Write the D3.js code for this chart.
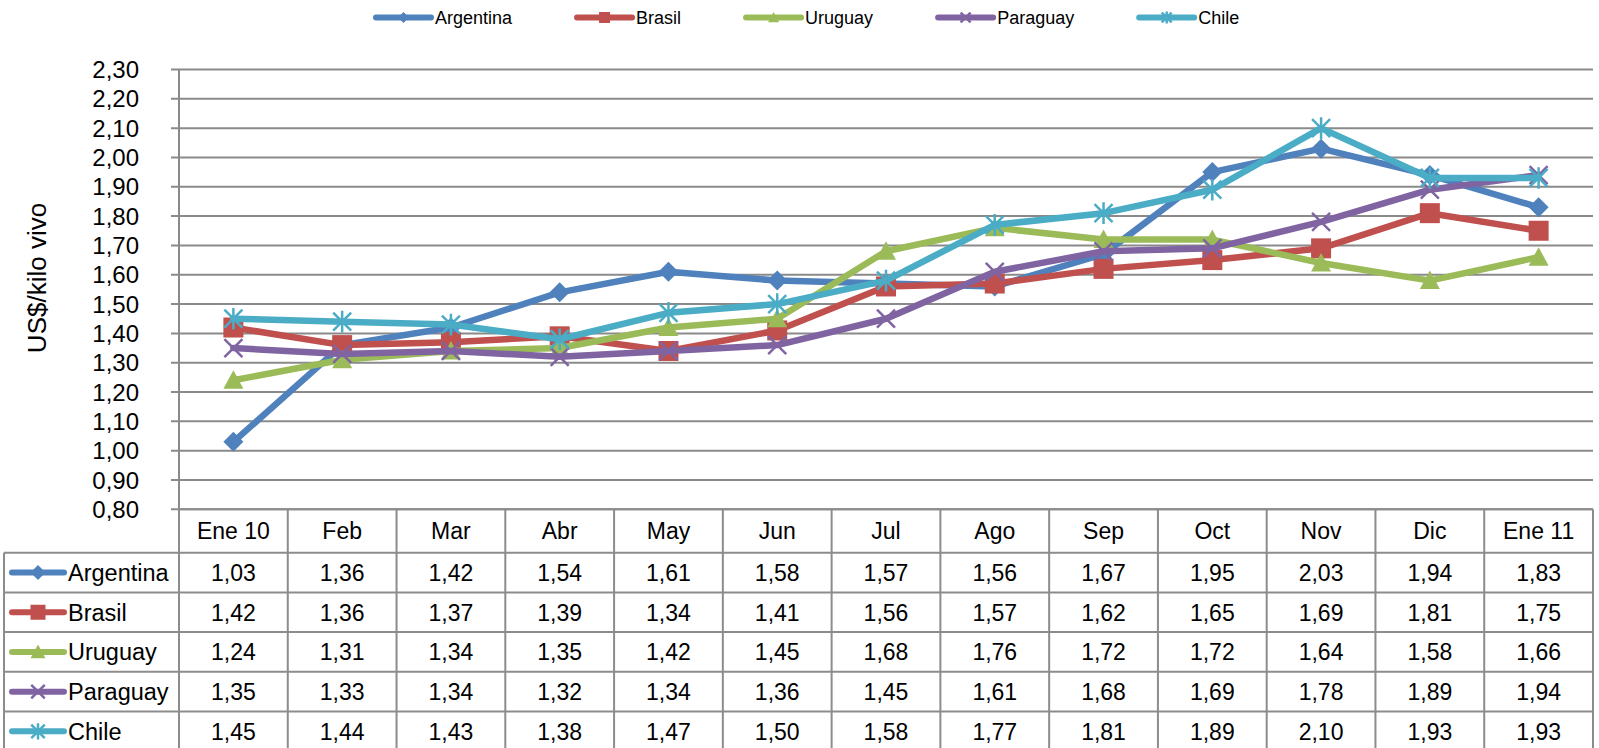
<!DOCTYPE html>
<html lang="es">
<head>
<meta charset="utf-8">
<title>Precio novillo</title>
<script src="https://d3js.org/d3.v7.min.js"></script>
<style>
  body { margin: 0; background: #fff; }
  svg { display: block; font-family: "Liberation Sans", Arial, sans-serif; }
  .grid line { stroke: #8a8a8a; stroke-width: 2px; }
  .tbl line { stroke: #8c8c8c; stroke-width: 2px; }
</style>
</head>
<body>
<svg id="chart" width="1599" height="748"></svg>
<script>
// data
var months = ["Ene 10", "Feb", "Mar", "Abr", "May", "Jun", "Jul", "Ago", "Sep", "Oct", "Nov", "Dic", "Ene 11"];
var argentina = [1.03, 1.36, 1.42, 1.54, 1.61, 1.58, 1.57, 1.56, 1.67, 1.95, 2.03, 1.94, 1.83];
var brasil    = [1.42, 1.36, 1.37, 1.39, 1.34, 1.41, 1.56, 1.57, 1.62, 1.65, 1.69, 1.81, 1.75];
var uruguay   = [1.24, 1.31, 1.34, 1.35, 1.42, 1.45, 1.68, 1.76, 1.72, 1.72, 1.64, 1.58, 1.66];
var paraguay  = [1.35, 1.33, 1.34, 1.32, 1.34, 1.36, 1.45, 1.61, 1.68, 1.69, 1.78, 1.89, 1.94];
var chile     = [1.45, 1.44, 1.43, 1.38, 1.47, 1.50, 1.58, 1.77, 1.81, 1.89, 2.10, 1.93, 1.93];
var yTicks = [0.8, 0.9, 1.0, 1.1, 1.2, 1.3, 1.4, 1.5, 1.6, 1.7, 1.8, 1.9, 2.0, 2.1, 2.2, 2.3];

var series = [
  { name: "Argentina", values: argentina, color: "#4f81bd", marker: "diamond" },
  { name: "Brasil",    values: brasil,    color: "#c0504d", marker: "square" },
  { name: "Uruguay",   values: uruguay,   color: "#9bbb59", marker: "triangle" },
  { name: "Paraguay",  values: paraguay,  color: "#8064a2", marker: "x" },
  { name: "Chile",     values: chile,     color: "#4bacc6", marker: "asterisk" }
];

var svg = d3.select("#chart");
var plotLeft = 179, plotRight = 1593, plotTop = 69.5, plotBottom = 509.3;
var rowH = 39.7, headBottom = 552.7;

var esLocale = d3.formatLocale({ decimal: ",", thousands: ".", grouping: [3], currency: ["", " US$"] });
var fmt = esLocale.format(".2f");

var x = d3.scaleBand().domain(months).range([plotLeft, plotRight]);
var y = d3.scaleLinear().domain([0.8, 2.3]).range([plotBottom, plotTop]);
var rows = d3.scaleBand().domain(series.map(function(s) { return s.name; }))
    .range([headBottom, headBottom + rowH * series.length]);
var cx = function(i) { return x(months[i]) + x.bandwidth() / 2; };

// marker shapes
function markerPath(type, r) {
  if (type === "diamond") return "M0," + (-r) + "L" + r + ",0L0," + r + "L" + (-r) + ",0Z";
  if (type === "square") return "M" + (-r) + "," + (-r) + "h" + 2 * r + "v" + 2 * r + "h" + (-2 * r) + "Z";
  if (type === "triangle") return "M0," + (-r) + "L" + r + "," + r * 0.85 + "L" + (-r) + "," + r * 0.85 + "Z";
  var p = "M" + (-r) + "," + (-r) + "L" + r + "," + r + "M" + (-r) + "," + r + "L" + r + "," + (-r);
  if (type === "asterisk") p += "M0," + (-r * 1.2) + "L0," + r * 1.2;
  return p;
}
function drawMarker(sel, s, r) {
  var stroked = s.marker === "x" || s.marker === "asterisk";
  sel.append("path")
    .attr("d", markerPath(s.marker, stroked ? r * 0.9 : r))
    .attr("fill", stroked ? "none" : s.color)
    .attr("stroke", s.color)
    .attr("stroke-width", stroked ? 2.5 : 0);
}

// gridlines + y axis
var grid = svg.append("g").attr("class", "grid");
grid.selectAll("line").data(yTicks).enter().append("line")
    .attr("x1", plotLeft - 8).attr("x2", plotRight)
    .attr("y1", function(d) { return y(d); }).attr("y2", function(d) { return y(d); });
grid.append("line").attr("x1", plotLeft).attr("x2", plotLeft)
    .attr("y1", plotTop).attr("y2", plotBottom);

svg.append("g").selectAll("text").data(yTicks).enter().append("text")
    .attr("x", 139).attr("y", function(d) { return y(d); })
    .attr("dy", "0.36em").attr("text-anchor", "end")
    .style("font-size", "24px").attr("fill", "#000")
    .text(function(d) { return fmt(d); });

svg.append("text")
    .attr("transform", "translate(46," + 278 + ") rotate(-90)")
    .attr("text-anchor", "middle")
    .style("font-size", "26px")
    .text("US$/kilo vivo");

// lines
var line = d3.line()
    .x(function(d, i) { return cx(i); })
    .y(function(d) { return y(d); });

series.forEach(function(s) {
  var g = svg.append("g");
  g.append("path").datum(s.values)
    .attr("d", line).attr("fill", "none")
    .attr("stroke", s.color).attr("stroke-width", 6.5)
    .attr("stroke-linejoin", "round").attr("stroke-linecap", "round");
  g.selectAll("g.pt").data(s.values).enter().append("g")
    .attr("class", "pt")
    .attr("transform", function(d, i) { return "translate(" + cx(i) + "," + y(d) + ")"; })
    .each(function() { drawMarker(d3.select(this), s, s.marker === "square" ? 10 : 10); });
});

// data table
var tbl = svg.append("g").attr("class", "tbl");
var tableBottom = headBottom + rowH * series.length;
tbl.append("line").attr("x1", plotLeft).attr("x2", plotRight).attr("y1", plotBottom).attr("y2", plotBottom);
series.forEach(function(s) {
  tbl.append("line").attr("x1", 4).attr("x2", plotRight)
    .attr("y1", rows(s.name)).attr("y2", rows(s.name));
});
tbl.append("line").attr("x1", 4).attr("x2", 4).attr("y1", headBottom).attr("y2", tableBottom);
tbl.append("line").attr("x1", plotLeft).attr("x2", plotLeft).attr("y1", plotBottom).attr("y2", tableBottom);
tbl.selectAll("line.col").data(months).enter().append("line")
    .attr("class", "col")
    .attr("x1", function(d) { return x(d) + x.bandwidth(); })
    .attr("x2", function(d) { return x(d) + x.bandwidth(); })
    .attr("y1", plotBottom).attr("y2", tableBottom);

svg.append("g").selectAll("text").data(months).enter().append("text")
    .attr("x", function(d, i) { return cx(i); })
    .attr("y", (plotBottom + headBottom) / 2)
    .attr("dy", "0.36em").attr("text-anchor", "middle")
    .style("font-size", "23px")
    .text(function(d) { return d; });

series.forEach(function(s) {
  var ry = rows(s.name) + rows.bandwidth() / 2;
  var g = svg.append("g");
  g.append("line").attr("x1", 12).attr("x2", 64).attr("y1", ry).attr("y2", ry)
    .attr("stroke", s.color).attr("stroke-width", 6).attr("stroke-linecap", "round");
  drawMarker(g.append("g").attr("transform", "translate(38," + ry + ")"), s, 7.5);
  g.append("text").attr("x", 68).attr("y", ry).attr("dy", "0.36em")
    .style("font-size", "23.5px").text(s.name);
  g.selectAll("text.v").data(s.values).enter().append("text")
    .attr("class", "v")
    .attr("x", function(d, i) { return cx(i); })
    .attr("y", ry).attr("dy", "0.36em").attr("text-anchor", "middle")
    .style("font-size", "23px")
    .text(function(d) { return fmt(d); });
});

// legend
var lx = 376, ly = 17.5;
series.forEach(function(s) {
  var g = svg.append("g").attr("transform", "translate(" + lx + "," + ly + ")");
  g.append("line").attr("x1", 0).attr("x2", 55)
    .attr("stroke", s.color).attr("stroke-width", 6).attr("stroke-linecap", "round");
  drawMarker(g.append("g").attr("transform", "translate(27.5,0)"), s, 5.5);
  var t = g.append("text").attr("x", 59).attr("dy", "0.36em")
    .style("font-size", "18px").text(s.name);
  lx += 59 + t.node().getComputedTextLength() + 65;
});
</script>
</body>
</html>
